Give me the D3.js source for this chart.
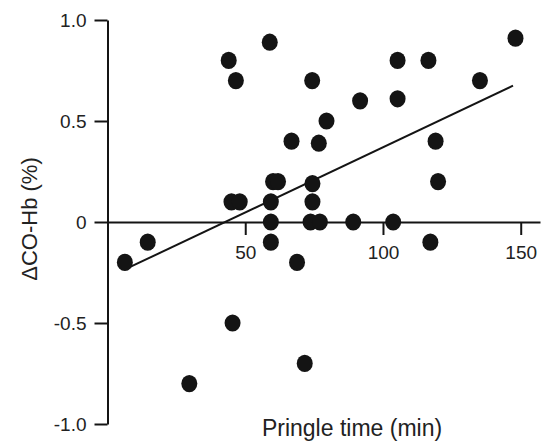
<!DOCTYPE html>
<html>
<head>
<meta charset="utf-8">
<script src="https://cdn.jsdelivr.net/npm/d3@7"></script>
<style>
  html, body { margin: 0; padding: 0; background: #fff; }
  svg { display: block; font-family: "Liberation Sans", Arial, Helvetica, sans-serif; }
</style>
</head>
<body>
<svg id="chart" width="541" height="444"></svg>
<script>
// Pringle time (min)
const pringleTime = [6.3, 14.6, 29.7, 44, 46.6, 45, 48, 45.4, 58.9, 60.1, 61.9, 59.3, 59.3, 59.3,
  66.8, 68.8, 71.6, 74.3, 74.4, 74.4, 73.7, 77.1, 76.7, 79.5, 89.2, 91.7, 103.7, 105.3, 105.3,
  116.5, 117.2, 119.1, 120, 135.2, 148.1];
// ΔCO-Hb (%)
const deltaCOHb = [-0.2, -0.1, -0.8, 0.8, 0.7, 0.1, 0.1, -0.5, 0.89, 0.2, 0.2, 0.1, 0, -0.1,
  0.4, -0.2, -0.7, 0.7, 0.19, 0.1, 0, 0, 0.39, 0.5, 0, 0.6, 0, 0.8, 0.61,
  0.8, -0.1, 0.4, 0.2, 0.7, 0.91];
// regression line endpoints
const regX = [6.3, 147.2];
const regY = [-0.235, 0.675];

const xTicks = [50, 100, 150];
const yTicks = [-1, -0.5, 0, 0.5, 1];
const yTickLabels = ["-1.0", "-0.5", "0", "0.5", "1.0"];
const xTitle = "Pringle time (min)";
const yTitle = "\u0394CO-Hb (%)";

const svg = d3.select("#chart");
const x = d3.scaleLinear().domain([0, 157]).range([107.5, 540]);
const y = d3.scaleLinear().domain([-1, 1]).range([424, 20]);

const ink = "#141414";

// Y axis
const yAxis = svg.append("g")
  .attr("transform", `translate(${x(0)},0)`)
  .call(d3.axisLeft(y).tickValues(yTicks).tickSize(13).tickSizeOuter(0).tickPadding(8)
    .tickFormat((d, i) => yTickLabels[i]));
yAxis.selectAll("path.domain").attr("stroke", ink).attr("stroke-width", 2);
yAxis.selectAll(".tick line").attr("stroke", ink).attr("stroke-width", 2);
yAxis.selectAll(".tick text").attr("fill", "#222").attr("font-size", 19)
  .style("font-family", "'Liberation Sans', Arial, sans-serif");

// X axis at y=0
const xAxis = svg.append("g")
  .attr("transform", `translate(0,${y(0)})`)
  .call(d3.axisBottom(x).tickValues(xTicks).tickSize(13).tickSizeOuter(0).tickPadding(11)
    .tickFormat(d3.format("d")));
xAxis.selectAll("path.domain").attr("stroke", ink).attr("stroke-width", 2);
xAxis.selectAll(".tick line").attr("stroke", ink).attr("stroke-width", 2);
xAxis.selectAll(".tick text").attr("fill", "#222").attr("font-size", 19)
  .style("font-family", "'Liberation Sans', Arial, sans-serif");

// regression line
svg.append("line")
  .attr("x1", x(regX[0])).attr("y1", y(regY[0]))
  .attr("x2", x(regX[1])).attr("y2", y(regY[1]))
  .attr("stroke", ink).attr("stroke-width", 2);

// points
svg.append("g").selectAll("ellipse")
  .data(pringleTime.map((t, i) => [t, deltaCOHb[i]]))
  .join("ellipse")
  .attr("cx", d => x(d[0]))
  .attr("cy", d => y(d[1]))
  .attr("rx", 8)
  .attr("ry", 8.6)
  .attr("fill", ink);

// titles
svg.append("text")
  .attr("x", 352).attr("y", 436)
  .attr("text-anchor", "middle")
  .attr("font-size", 23).attr("fill", "#222")
  .text(xTitle);

svg.append("text")
  .attr("transform", "translate(37,219) rotate(-90)")
  .attr("text-anchor", "middle")
  .attr("font-size", 22).attr("fill", "#222")
  .text(yTitle);
</script>
</body>
</html>
